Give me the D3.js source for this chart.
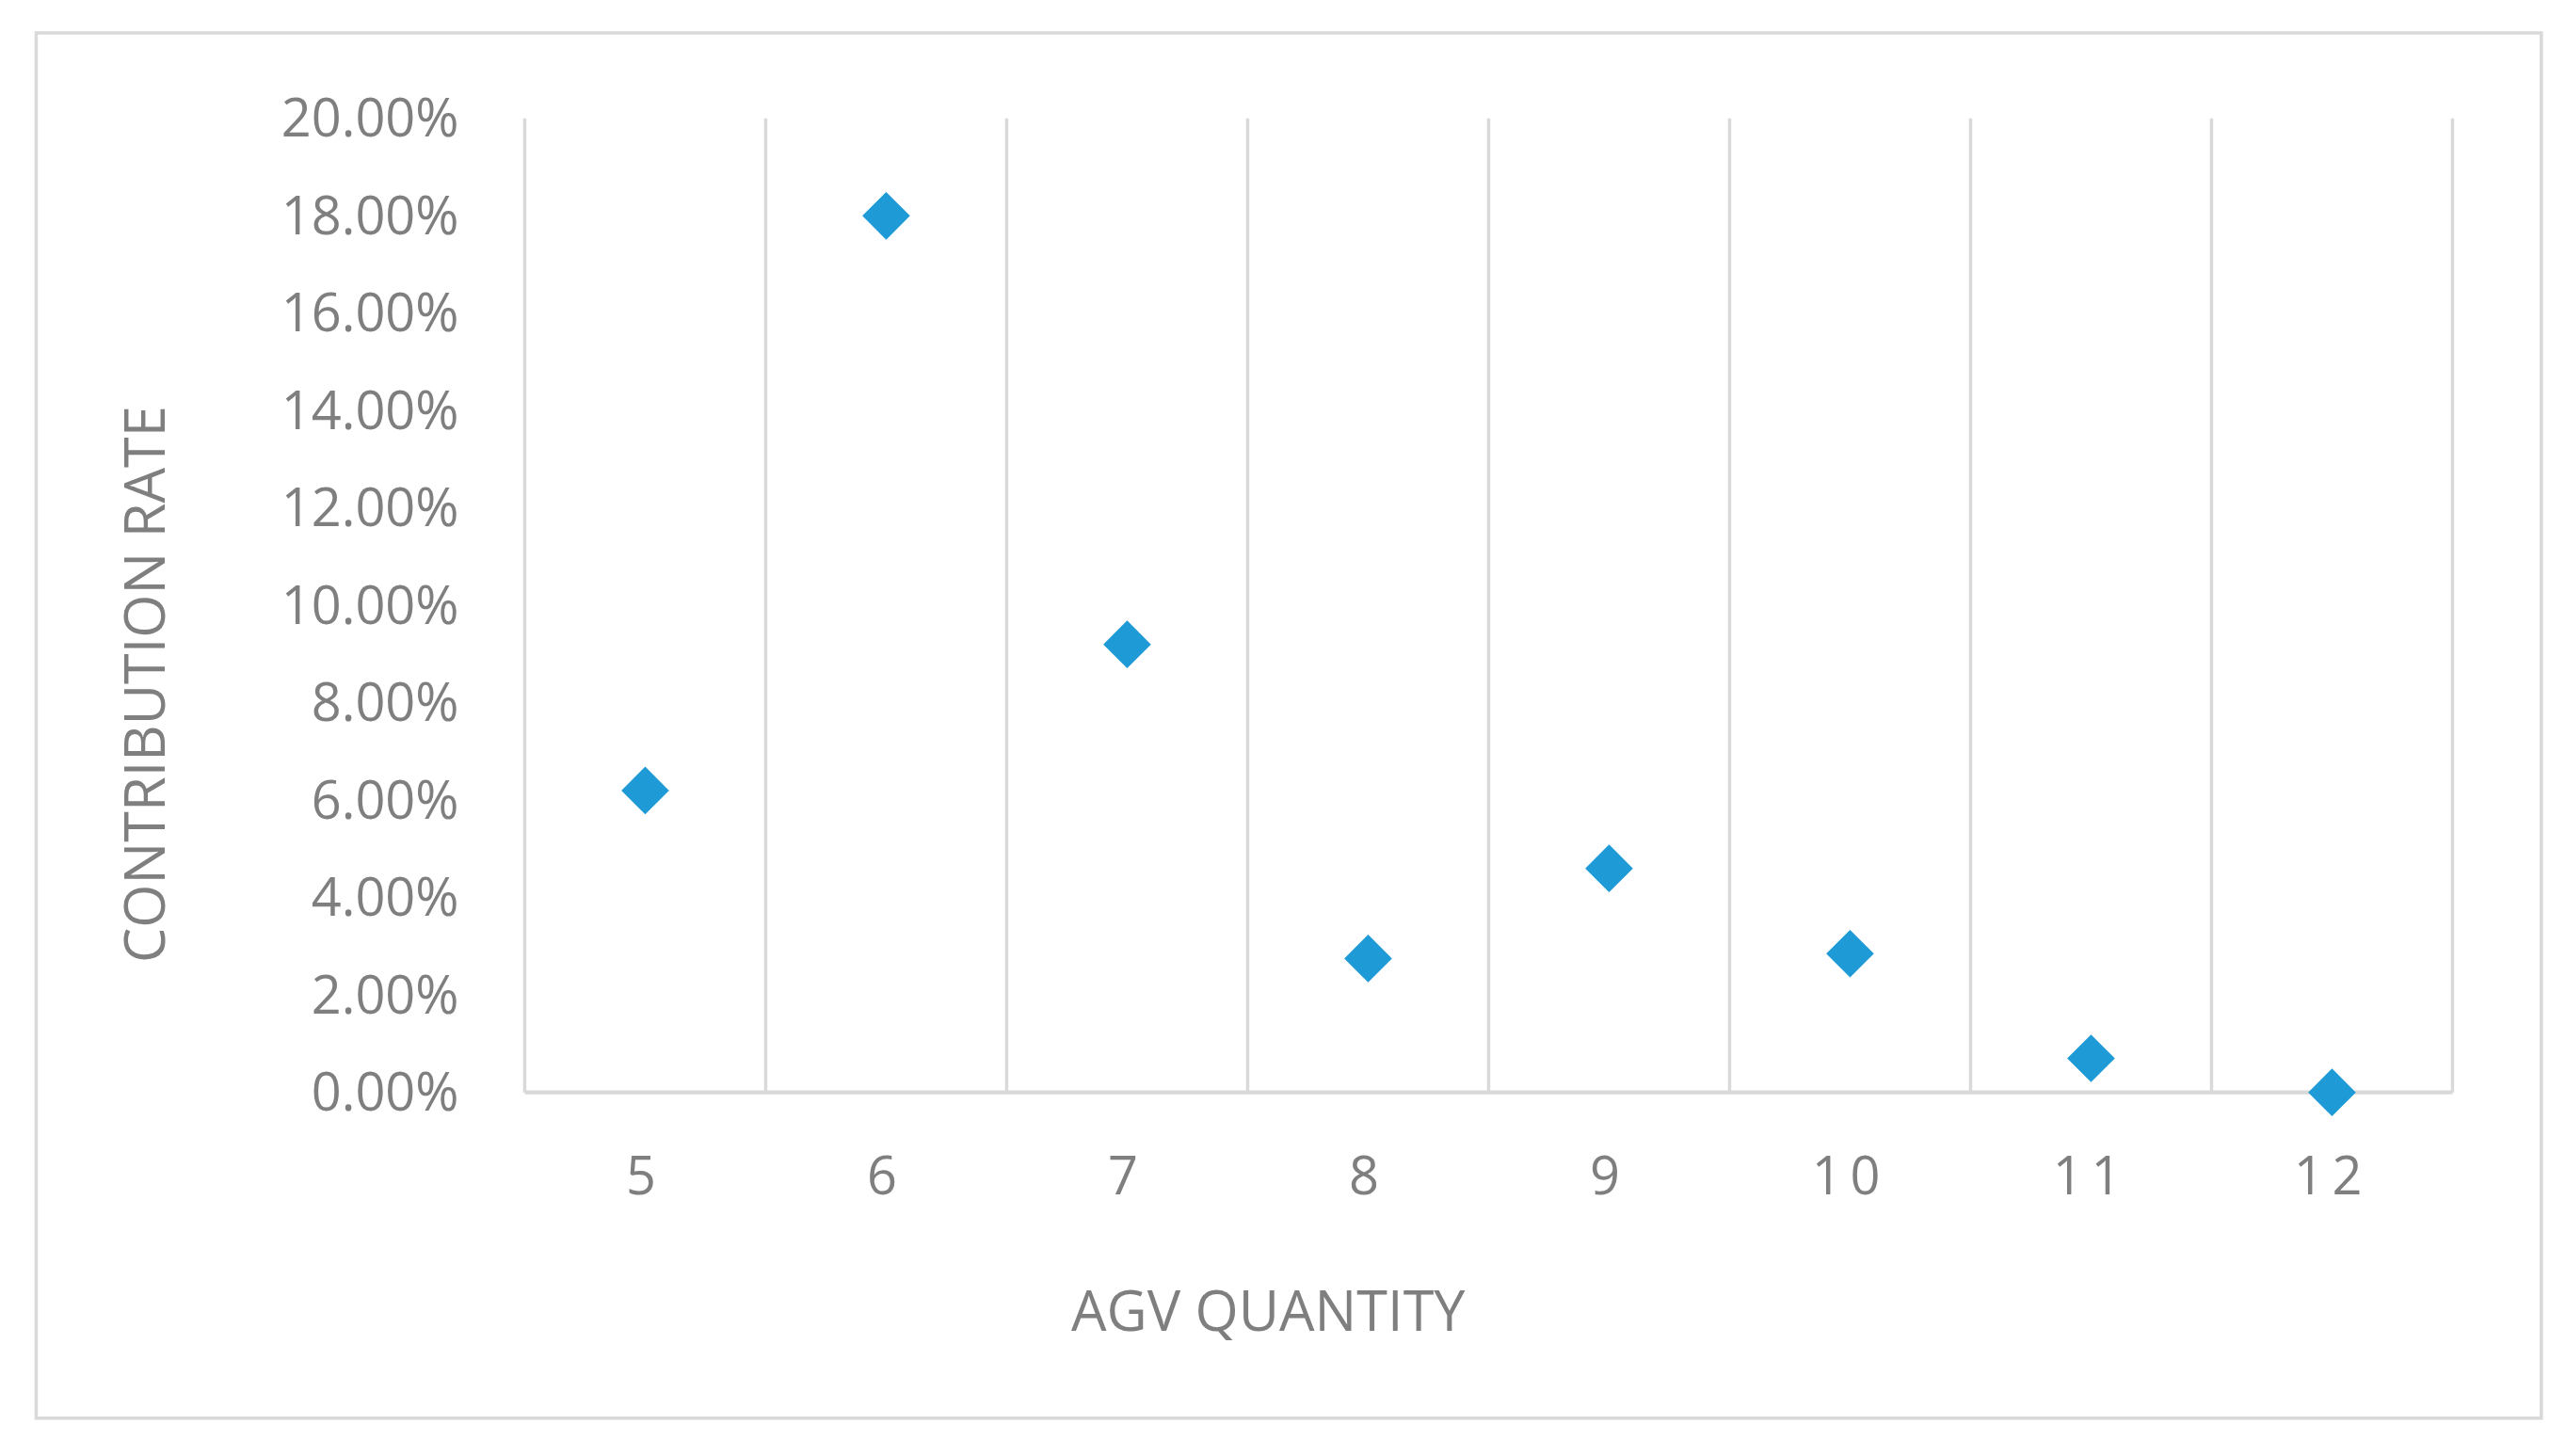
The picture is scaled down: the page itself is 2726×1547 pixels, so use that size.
<!DOCTYPE html>
<html>
<head>
<script src="https://d3js.org/d3.v7.min.js"></script>
<style>
  html, body { margin: 0; padding: 0; background: white; }
  svg text { font-family: 'Open Sans', 'Noto Sans', sans-serif; fill: #7f7f7f; }
</style>
</head>
<body>
<svg id="chart" width="2726" height="1547" viewBox="0 0 1560 885" preserveAspectRatio="none"></svg>
<script>
const categories = ['5', '6', '7', '8', '9', '10', '11', '12'];
const rates = [0.062, 0.180, 0.092, 0.0275, 0.046, 0.0285, 0.007, 0.0];
const yTicks = [0, 0.02, 0.04, 0.06, 0.08, 0.10, 0.12, 0.14, 0.16, 0.18, 0.20];

const svg = d3.select('#chart');
const plotLeft = 319, plotRight = 1491, plotTop = 72, plotBottom = 664;

svg.append('rect')
  .attr('x', 22).attr('y', 20).attr('width', 1523).attr('height', 842)
  .attr('fill', 'white').attr('stroke', '#d9d9d9').attr('stroke-width', 2);

const x = d3.scaleBand().domain(categories).range([plotLeft, plotRight]);
const y = d3.scaleLinear().domain([0, 0.20]).range([plotBottom, plotTop]);

// vertical gridlines at band edges
const edges = categories.map(c => x(c)).concat([plotRight]);
svg.append('g').selectAll('line').data(edges).join('line')
  .attr('x1', d => d).attr('x2', d => d)
  .attr('y1', plotTop).attr('y2', plotBottom)
  .attr('stroke', '#d9d9d9').attr('stroke-width', 2);

svg.append('line')
  .attr('x1', plotLeft).attr('x2', plotRight).attr('y1', plotBottom).attr('y2', plotBottom)
  .attr('stroke', '#d9d9d9').attr('stroke-width', 2.5);

// y tick labels
svg.append('g').selectAll('text').data(yTicks).join('text')
  .attr('x', 279).attr('y', d => y(d))
  .attr('dy', '0.35em').attr('text-anchor', 'end')
  .attr('font-size', 32)
  .text(d => d3.format('.2%')(d));

// x tick labels
svg.append('g').selectAll('text').data(categories).join('text')
  .attr('x', d => x(d) + x.bandwidth() / 2).attr('y', 715)
  .attr('dy', '0.35em').attr('text-anchor', 'middle')
  .attr('font-size', 32).attr('letter-spacing', 5)
  .text(d => d);

// axis titles
svg.append('text')
  .attr('x', 771).attr('y', 797).attr('dy', '0.35em')
  .attr('text-anchor', 'middle').attr('font-size', 34)
  .text('AGV QUANTITY');

svg.append('text')
  .attr('transform', 'translate(88,416) rotate(-90)')
  .attr('dy', '0.35em').attr('text-anchor', 'middle').attr('font-size', 34)
  .text('CONTRIBUTION RATE');

// diamond markers
const diamond = d3.symbol().type(d3.symbolSquare).size(420);
svg.append('g').selectAll('path').data(rates).join('path')
  .attr('d', diamond)
  .attr('transform', (d, i) => `translate(${x(categories[i]) + x.bandwidth() / 2},${y(d)}) rotate(45)`)
  .attr('fill', '#1e9bd7');
</script>
</body>
</html>
